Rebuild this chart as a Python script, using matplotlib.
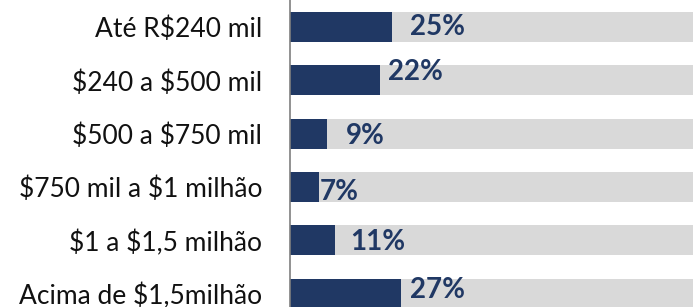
import matplotlib
matplotlib.use("Agg")
import matplotlib.pyplot as plt

categories = ["Até R$240 mil", "$240 a $500 mil", "$500 a $750 mil",
              "$750 mil a $1 milhão", "$1 a $1,5 milhão", "Acima de $1,5milhão"]
values = [25, 22, 9, 7, 11, 27]
labels = ["25%", "22%", "9%", "7%", "11%", "27%"]
full = [100] * len(values)

# label nudges (x in %, y in bar units), as placed in the original slide
LBL_DX = [4.2, 1.8, 4.7, 0.3, 3.7, 2.3]
LBL_DY = [0.0, -0.15, 0.05, 0.1, 0.03, -0.07]

NAVY = "#203864"; GRAY = "#D9D9D9"

plt.rcParams["font.family"] = ["Lato", "DejaVu Sans"]
plt.rcParams["text.parse_math"] = False
fig = plt.figure(figsize=(6.93, 3.07), dpi=100)
fig.patch.set_facecolor("white")
ax = fig.add_axes([290 / 693, 0, 1 - 290 / 693, 1])
y = list(range(len(values)))
ax.barh(y, full, height=0.5625, color=GRAY, zorder=1)
ax.barh(y, values, height=0.5625, color=NAVY, zorder=2)
for i, (v, t) in enumerate(zip(values, labels)):
    ax.text(v + LBL_DX[i], i + LBL_DY[i], t, color=NAVY, fontsize=20,
            fontweight="bold", va="center", ha="left", zorder=3)
ax.set_xlim(0, 98.3)
ax.set_ylim(5.248, -0.506)
ax.set_yticks(y)
ax.set_yticklabels(categories, fontsize=19, color="#111111")
ax.tick_params(axis="y", length=0, pad=20)
ax.set_xticks([])
for s in ["top", "right", "bottom"]:
    ax.spines[s].set_visible(False)
ax.spines["left"].set_color("#7f7f7f")
ax.spines["left"].set_linewidth(1.2)
ax.set_facecolor("none")
fig.savefig("out.png", dpi=100)
